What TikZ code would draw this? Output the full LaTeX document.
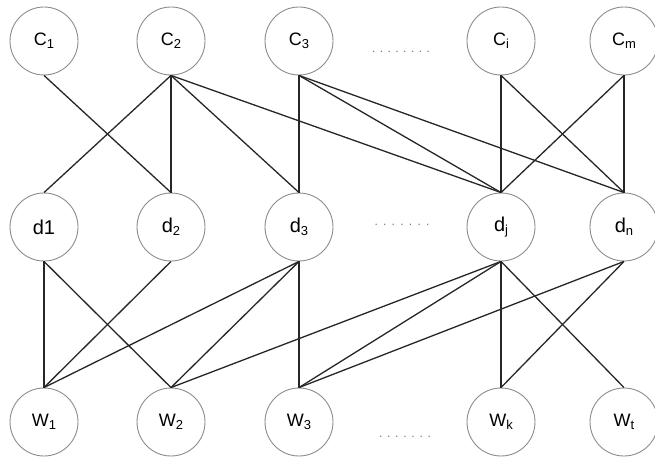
\documentclass[tikz,border=0pt]{standalone}
\usepackage{fontspec}
\setmainfont{Liberation Sans}
\newcommand\sbx[1]{\raisebox{-0.15em}{\fontsize{13}{14}\selectfont #1}}
\newcommand\dotsrow[2]{\makebox[#1][s]{#2}}
\begin{document}
\begin{tikzpicture}[x=1pt,y=-1pt,
  vert/.style={circle, draw=black!45, line width=0.9pt, minimum size=68pt, inner sep=0pt, font=\fontsize{18}{20}\selectfont},
  dvert/.style={vert, font=\fontsize{20}{22}\selectfont},
  link/.style={draw=black!85, line width=1.3pt},
  dotlbl/.style={inner sep=0pt, text=black!55, font=\fontsize{12}{12}\selectfont}]
\useasboundingbox (0,0) rectangle (655,457);
% top row
\node[vert] (c1) at (44,41) {C\sbx{1}};
\node[vert] (c2) at (171,41) {C\sbx{2}};
\node[vert] (c3) at (299,41) {C\sbx{3}};
\node[vert] (ci) at (501,41) {C\sbx{i}};
\node[vert] (cm) at (624,41) {C\sbx{m}};
\node[dotlbl] (cdots) at (401,52) {\dotsrow{58pt}{.\hfill.\hfill.\hfill.\hfill.\hfill.\hfill.\hfill.}};
% middle row
\node[dvert] (d1) at (44,227) {d1};
\node[dvert] (d2) at (171,227) {d\sbx{2}};
\node[dvert] (d3) at (299,227) {d\sbx{3}};
\node[dvert] (dj) at (501,227) {d\sbx{j}};
\node[dvert] (dn) at (624,227) {d\sbx{n}};
\node[dotlbl] (ddots) at (402,225) {\dotsrow{55pt}{.\hfill.\hfill.\hfill.\hfill.\hfill.\hfill.}};
% bottom row
\node[vert] (w1) at (44,422) {W\sbx{1}};
\node[vert] (w2) at (171,422) {W\sbx{2}};
\node[vert] (w3) at (299,422) {W\sbx{3}};
\node[vert] (wk) at (501,422) {W\sbx{k}};
\node[vert] (wt) at (624,422) {W\sbx{t}};
\node[dotlbl] (wdots) at (405,437) {\dotsrow{52pt}{.\hfill.\hfill.\hfill.\hfill.\hfill.\hfill.}};
% C -> d
\draw[link] (c1.south) -- (d2.north);
\draw[link] (c2.south) -- (d1.north);
\draw[link] (c2.south) -- (d2.north);
\draw[link] (c2.south) -- (d3.north);
\draw[link] (c2.south) -- (dj.north);
\draw[link] (c3.south) -- (d3.north);
\draw[link] (c3.south) -- (dj.north);
\draw[link] (c3.south) -- (dn.north);
\draw[link] (ci.south) -- (dj.north);
\draw[link] (ci.south) -- (dn.north);
\draw[link] (cm.south) -- (dj.north);
\draw[link] (cm.south) -- (dn.north);
% d -> W
\draw[link] (d1.south) -- (w1.north);
\draw[link] (d1.south) -- (w2.north);
\draw[link] (d2.south) -- (w1.north);
\draw[link] (d3.south) -- (w1.north);
\draw[link] (d3.south) -- (w2.north);
\draw[link] (d3.south) -- (w3.north);
\draw[link] (dj.south) -- (w2.north);
\draw[link] (dj.south) -- (w3.north);
\draw[link] (dj.south) -- (wk.north);
\draw[link] (dj.south) -- (wt.north);
\draw[link] (dn.south) -- (w3.north);
\draw[link] (dn.south) -- (wk.north);
\end{tikzpicture}
\end{document}
